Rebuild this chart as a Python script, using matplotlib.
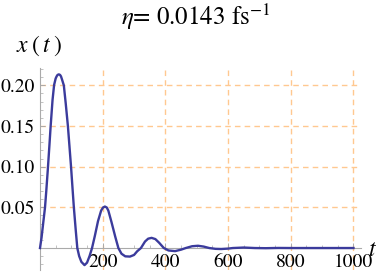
import matplotlib
matplotlib.use("Agg")
import matplotlib.pyplot as plt
from matplotlib.ticker import MultipleLocator, FixedLocator, FixedFormatter

plt.rcParams['mathtext.fontset'] = 'stix'
plt.rcParams['font.family'] = ['STIXGeneral', 'Liberation Serif', 'DejaVu Serif']

# values
t = [0, 5, 10, 16, 20, 25, 30, 34, 40, 45, 50, 53, 56, 60, 64, 67, 70, 76, 82, 89, 94, 99,
     104, 108, 114, 119, 125, 132, 142, 150, 158, 166, 175, 185, 195, 201, 207, 213, 218, 228,
     240, 250, 260, 272, 287, 300, 310, 322, 335, 345, 356, 368, 380, 395, 410, 431,
     450, 465, 485, 504, 522, 540, 560, 578, 600, 615, 650, 685, 720, 760, 800, 900, 1000]
x = [0.0, 0.013, 0.030, 0.050, 0.070, 0.097, 0.126, 0.150, 0.182, 0.2005, 0.2085, 0.211,
     0.2128, 0.2135, 0.2128, 0.211, 0.2075, 0.200, 0.178, 0.150, 0.125, 0.100, 0.072, 0.050,
     0.022, 0.0, -0.010, -0.017, -0.021, -0.018, -0.010, 0.0, 0.015, 0.033, 0.046, 0.0498,
     0.051, 0.0498, 0.046, 0.032, 0.014, 0.0, -0.007, -0.0102, -0.0105, -0.0085, -0.004, 0.0,
     0.008, 0.0115, 0.0125, 0.011, 0.0065, 0.0, -0.003, -0.0038, -0.002, 0.0, 0.0022, 0.0028,
     0.0018, 0.0, -0.001, -0.0012, -0.0007, 0.0, 0.0006, 0.0, -0.0002, 0.0001, 0.0, 0.0, 0.0]

xticks = [200, 400, 600, 800, 1000]
xticklabels = ['200', '400', '600', '800', '1000']
yticks = [0.05, 0.10, 0.15, 0.20]
yticklabels = ['0.05', '0.10', '0.15', '0.20']

title = r'$\eta$= 0.0143 fs$^{-1}$'

fig = plt.figure(figsize=(3.82, 2.73), dpi=100)
ax = fig.add_axes([40 / 382, 3 / 273, (361 - 40) / 382, (270 - 68) / 273])
ax.set_xlim(0, 1024)
ax.set_ylim(-0.027, 0.2213)

ax.plot(t, x, color='#3b3b9c', lw=1.7, zorder=3, clip_on=False,
        solid_joinstyle='round')

for s in ['top', 'right']:
    ax.spines[s].set_visible(False)
ax.spines['bottom'].set_position(('data', 0))
ax.spines['left'].set_position(('data', 0))
for s in ['bottom', 'left']:
    ax.spines[s].set_color('#aaaaaa')
    ax.spines[s].set_linewidth(0.8)

ax.xaxis.set_major_locator(FixedLocator(xticks))
ax.xaxis.set_major_formatter(FixedFormatter(xticklabels))
ax.xaxis.set_minor_locator(MultipleLocator(50))
ax.yaxis.set_major_locator(FixedLocator(yticks))
ax.yaxis.set_major_formatter(FixedFormatter(yticklabels))
ax.yaxis.set_minor_locator(MultipleLocator(0.01))

ax.tick_params(which='both', direction='in', color='#aaaaaa', labelsize=14)
ax.tick_params(which='major', length=3.5, width=0.7)
ax.tick_params(which='minor', length=2, width=0.5)
ax.tick_params(axis='x', pad=4)
ax.tick_params(axis='y', pad=4)

ax.grid(True, which='major', color='#ffc890', linestyle=(0, (4, 3)), linewidth=1.0)
ax.set_axisbelow(True)

fig.text(0.512, 0.938, title, ha='center', va='center', fontsize=18)
fig.text(39 / 382, 1 - 46 / 273, r'$x\;(\,t\;)$', ha='center', va='center', fontsize=17)
fig.text(372 / 382, 1 - 250 / 273, r'$t$', ha='center', va='center', fontsize=17)

fig.savefig('out.png', dpi=100)
